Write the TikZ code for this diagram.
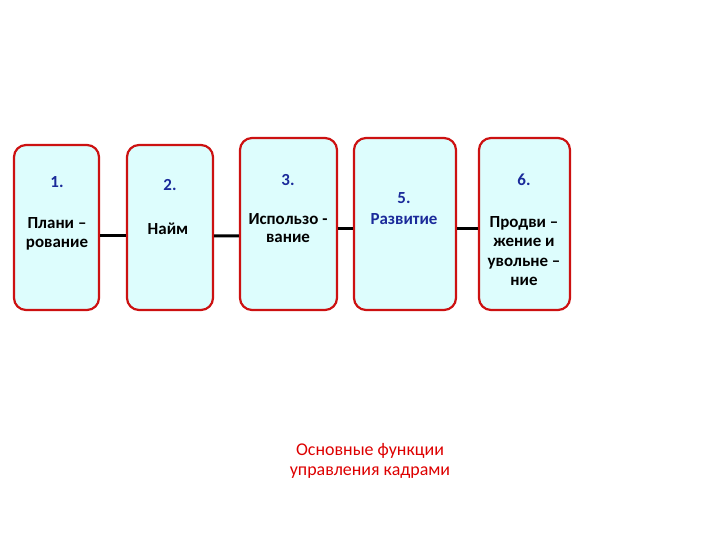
\documentclass[tikz,border=0pt]{standalone}
\usepackage{fontspec}
\setmainfont{Carlito}
\definecolor{boxfill}{HTML}{DDFDFD}
\definecolor{boxline}{HTML}{CC1111}
\definecolor{numblue}{HTML}{1A2A9A}
\definecolor{titlered}{HTML}{DD0000}
\begin{document}
\begin{tikzpicture}[x=1bp,y=-1bp]

	\tikzstyle{fbox}=[draw=boxline,fill=boxfill,line width=2.2bp,rounded corners=12bp,inner sep=0pt]
	\tikzstyle{num}=[text=numblue,font=\fontsize{17}{20}\selectfont\bfseries,inner sep=0pt]
	\tikzstyle{lbl}=[align=center,font=\fontsize{17}{18.5}\selectfont\bfseries,inner sep=0pt]
	\tikzstyle{link}=[line width=3bp,black]
	\useasboundingbox (0,0) rectangle (720,540);

	% boxes
	\node[fbox,minimum width=85bp,minimum height=165bp]  (b1) at (56.5,227.5) {};
	\node[fbox,minimum width=86bp,minimum height=165bp]  (b2) at (170,227.5) {};
	\node[fbox,minimum width=97bp,minimum height=172bp]  (b3) at (288.5,224) {};
	\node[fbox,minimum width=102bp,minimum height=172bp] (b5) at (405,224) {};
	\node[fbox,minimum width=91bp,minimum height=172bp]  (b6) at (524.5,224) {};

	% numbers and texts
	\node[num] (n1) at (57,182) {1.};
	\node[lbl] (t1) at (57,234) {Плани –\\рование};
	\node[num] (n2) at (170,185) {2.};
	\node[lbl] (t2) at (168,229) {Найм};
	\node[num] (n3) at (288,180) {3.};
	\node[lbl] (t3) at (288,228) {Использо -\\вание};
	\node[num] (n5) at (404,198) {5.};
	\node[lbl,text=numblue] (t5) at (404,219) {Развитие};
	\node[num] (n6) at (524,180) {6.};
	\node[lbl,font=\fontsize{17}{19.5}\selectfont\bfseries] (t6) at (524,251) {Продви –\\жение и\\увольне –\\ние};

	% connectors
	\draw[link] ([yshift=-8.5bp]b1.east) -- ([yshift=-8.5bp]b2.west);
	\draw[link] ([yshift=-8.5bp]b2.east) -- ([yshift=-12bp]b3.west);
	\draw[link] ([yshift=-5bp]b3.east) -- ([yshift=-5bp]b5.west);
	\draw[link] ([yshift=-5bp]b5.east) -- ([yshift=-5bp]b6.west);

	% caption
	\node[align=center,text=titlered,font=\fontsize{18}{19.5}\selectfont] (cap) at (370,461) {Основные функции\\управления кадрами};
\end{tikzpicture}
\end{document}
